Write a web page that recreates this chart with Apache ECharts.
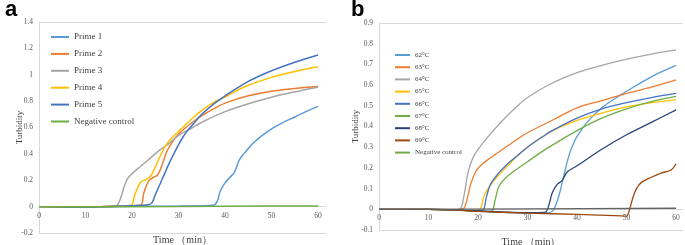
<!DOCTYPE html>
<html>
<head>
    <meta charset="utf-8">
    <title>Turbidity</title>
    <style type="text/css">
        * { margin: 0; padding: 0; }
        #main { width: 685px; height: 245px; background: #fff; }
    </style>
</head>
<body>
<div id="main"></div>
<script src="https://cdn.jsdelivr.net/npm/echarts@6/dist/echarts.min.js"></script>
<script type="text/javascript">
    // panel a: primer sets, [time(min), turbidity]
    var namesA = ['Prime 1', 'Prime 2', 'Prime 3', 'Prime 4', 'Prime 5', 'Negative control'];
    var colorsA = ['#5B9BD5', '#ED7D31', '#A5A5A5', '#FFC000', '#4472C4', '#70AD47'];
    var prime1 = [[0,0],[10,-0.003],[20,0.002],[30,0.005],[37.5,0.01],[38.3,0.04],[39,0.12],[40,0.18],[41,0.22],[42,0.26],[43,0.35],[44,0.4],[45,0.44],[46,0.48],[48,0.54],[50,0.59],[52,0.63],[55,0.68],[58,0.73],[60,0.76]];
    var prime2 = [[0,0],[10,-0.003],[16,0.003],[21.8,0.01],[22.5,0.1],[23.5,0.19],[24.5,0.22],[25.5,0.24],[26.5,0.32],[27.5,0.42],[28.5,0.48],[30,0.55],[33,0.64],[35,0.69],[38,0.75],[40,0.785],[45,0.84],[50,0.875],[55,0.895],[60,0.91]];
    var prime3 = [[0,0],[10,-0.003],[16,0.003],[16.8,0.01],[17.5,0.06],[18.3,0.15],[19,0.21],[20,0.25],[22,0.31],[24,0.37],[26,0.43],[28,0.48],[30,0.54],[33,0.6],[35,0.64],[40,0.72],[45,0.78],[50,0.83],[55,0.87],[60,0.905]];
    var prime4 = [[0,0],[10,-0.003],[16,0.003],[19.8,0.01],[20.5,0.08],[21.3,0.15],[22,0.19],[23,0.205],[24,0.23],[25,0.3],[26,0.38],[27,0.45],[28,0.5],[30,0.57],[33,0.67],[35,0.73],[38,0.8],[40,0.83],[42,0.87],[45,0.92],[50,0.98],[55,1.025],[60,1.06]];
    var prime5 = [[0,0],[10,-0.003],[16,0.003],[23.5,0.015],[24.3,0.03],[25,0.09],[26,0.17],[27,0.25],[28,0.33],[29,0.4],[30,0.47],[31,0.53],[32,0.58],[33,0.62],[35,0.7],[38,0.79],[40,0.84],[42,0.885],[45,0.95],[50,1.03],[55,1.095],[60,1.15]];
    var negA = [[0,0],[20,0],[40,0.003],[60,0.005]];
    var dataA = [prime1, prime2, prime3, prime4, prime5, negA];

    // panel b: temperatures
    var namesB = ['62°C', '63°C', '64°C', '65°C', '66°C', '67°C', '68°C', '69°C', 'Negative control'];
    var colorsB = ['#5B9BD5', '#ED7D31', '#A5A5A5', '#FFC000', '#4472C4', '#70AD47', '#264478', '#9E480E', '#636363'];
    var c62 = [[0,0],[10,0],[15,-0.003],[20,-0.01],[25,-0.015],[30,-0.018],[34,-0.017],[35,-0.01],[35.7,0.02],[36.5,0.08],[37.5,0.18],[38.5,0.27],[39.5,0.33],[40.5,0.37],[42,0.42],[45,0.49],[48,0.54],[50,0.57],[55,0.64],[60,0.695]];
    var c63 = [[0,0],[10,0],[15,-0.002],[17,0.003],[17.8,0.05],[18.5,0.12],[19.5,0.18],[20.5,0.21],[22,0.24],[25,0.29],[28,0.34],[30,0.37],[35,0.43],[40,0.49],[45,0.525],[50,0.56],[55,0.59],[60,0.625]];
    var c64 = [[0,0],[10,0],[15,-0.002],[16.4,0.003],[17.2,0.07],[18,0.18],[19,0.25],[20,0.29],[22,0.35],[25,0.43],[28,0.5],[30,0.54],[35,0.61],[40,0.66],[45,0.695],[50,0.725],[55,0.75],[60,0.77]];
    var c65 = [[0,0],[10,0],[15,-0.003],[20,-0.008],[20.6,0.01],[21.3,0.07],[22.3,0.11],[24,0.16],[26,0.21],[28,0.26],[30,0.3],[33,0.35],[35,0.38],[40,0.43],[45,0.465],[50,0.495],[55,0.515],[60,0.53]];
    var c66 = [[0,0],[10,0],[15,-0.003],[20,-0.008],[21,-0.005],[21.7,0.06],[22.5,0.12],[24,0.17],[26,0.22],[28,0.26],[30,0.3],[33,0.35],[35,0.38],[40,0.44],[45,0.485],[50,0.515],[55,0.54],[60,0.56]];
    var c67 = [[0,0],[10,0],[15,-0.003],[20,-0.01],[22.7,-0.01],[23.4,0.04],[24.2,0.11],[25.5,0.15],[27,0.18],[30,0.23],[33,0.28],[35,0.31],[40,0.38],[45,0.44],[50,0.485],[55,0.52],[60,0.545]];
    var c68 = [[0,0],[10,0],[15,-0.003],[20,-0.008],[25,-0.013],[30,-0.016],[33.5,-0.015],[34.3,0.02],[35,0.08],[36,0.12],[37,0.14],[38,0.18],[40,0.21],[45,0.29],[50,0.36],[55,0.42],[60,0.48]];
    var c69 = [[0,0],[10,0],[15,-0.003],[20,-0.01],[30,-0.018],[40,-0.025],[49,-0.032],[50,-0.033],[50.5,-0.01],[51.2,0.05],[52,0.1],[53,0.13],[55,0.155],[57,0.175],[59,0.19],[60,0.22]];
    var negB = [[0,0],[30,0.002],[60,0.005]];
    var dataB = [c62, c63, c64, c65, c66, c67, c68, c69, negB];

    var font = 'Liberation Serif';
    var axisGray = '#d9d9d9';
    var labelGray = '#595959';

    // x axis drawn at y = 0 by pulling it up from the bottom of the grid
    function xAx(gridIndex, max, lift, gap) {
        return {
            type: 'value', gridIndex: gridIndex, min: 0, max: max, interval: 10,
            offset: -lift,
            name: 'Time （min）', nameLocation: 'middle', nameGap: gap, nameMoveOverlap: false,
            nameTextStyle: { fontFamily: font, fontSize: 10, color: '#404040' },
            axisLine: { onZero: false, lineStyle: { color: axisGray } },
            axisTick: { show: false },
            splitLine: { show: false },
            axisLabel: {
                fontFamily: font, fontSize: 7.5, color: labelGray, margin: 5,
                formatter: function (v) { return v % 10 === 0 ? v : ''; }
            }
        };
    }

    function yAx(gridIndex, min, max, step, gap) {
        return {
            type: 'value', gridIndex: gridIndex, min: min, max: max, interval: step,
            name: 'Turbidity', nameLocation: 'middle', nameGap: gap, nameMoveOverlap: false,
            nameTextStyle: { fontFamily: font, fontSize: 9, color: '#404040' },
            axisLine: { show: true, onZero: false, lineStyle: { color: axisGray } },
            axisTick: { show: false },
            splitLine: { show: false },
            axisLabel: { fontFamily: font, fontSize: 7.5, color: labelGray, margin: 6 }
        };
    }

    // only the top and bottom frame lines
    function frameAx(gridIndex, min, max) {
        return {
            type: 'value', gridIndex: gridIndex, min: min, max: max, interval: max - min,
            axisLine: { show: false }, axisTick: { show: false }, axisLabel: { show: false },
            splitLine: { show: true, lineStyle: { color: axisGray } }
        };
    }

    var series = [];
    dataA.forEach(function (d, i) {
        series.push({
            name: namesA[i], type: 'line', xAxisIndex: 0, yAxisIndex: 0,
            data: d, smooth: 0.35, symbol: 'none',
            lineStyle: { color: colorsA[i], width: 1.5 }, itemStyle: { color: colorsA[i] }
        });
    });
    dataB.forEach(function (d, i) {
        series.push({
            name: namesB[i], type: 'line', xAxisIndex: 1, yAxisIndex: 2,
            data: d, smooth: 0.35, symbol: 'none',
            lineStyle: { color: colorsB[i], width: 1.3 }, itemStyle: { color: colorsB[i] }
        });
    });

    var myChart = echarts.init(document.getElementById('main'));
    var option = {
        animation: false,
        title: [
            { text: 'a', left: 0, top: -6, textStyle: { fontFamily: 'Liberation Sans', fontWeight: 'bold', fontSize: 22, color: '#000' } },
            { text: 'b', left: 346, top: -6, textStyle: { fontFamily: 'Liberation Sans', fontWeight: 'bold', fontSize: 22, color: '#000' } }
        ],
        grid: [
            { left: 39, top: 22, width: 287, height: 211, outerBoundsMode: 'none' },
            { left: 379, top: 23, width: 304, height: 207, outerBoundsMode: 'none' }
        ],
        legend: [
            {
                data: namesA, orient: 'vertical', left: 51, top: 32, padding: 0, icon: 'rect',
                itemWidth: 18, itemHeight: 2, itemGap: 6.9,
                textStyle: { fontFamily: font, fontSize: 9, lineHeight: 10, color: '#404040' }
            },
            {
                data: namesB, orient: 'vertical', left: 395, top: 51, padding: 0, icon: 'rect',
                itemWidth: 15, itemHeight: 2, itemGap: 4.2,
                textStyle: { fontFamily: font, fontSize: 7, lineHeight: 8, color: '#404040' }
            }
        ],
        xAxis: [xAx(0, 61.7, 26.4, 29), xAx(1, 61.4, 20.7, 28)],
        yAxis: [yAx(0, -0.2, 1.4, 0.2, 15), frameAx(0, -0.2, 1.4), yAx(1, -0.1, 0.9, 0.1, 19), frameAx(1, -0.1, 0.9)],
        series: series
    };
    myChart.setOption(option);
</script>
</body>
</html>
